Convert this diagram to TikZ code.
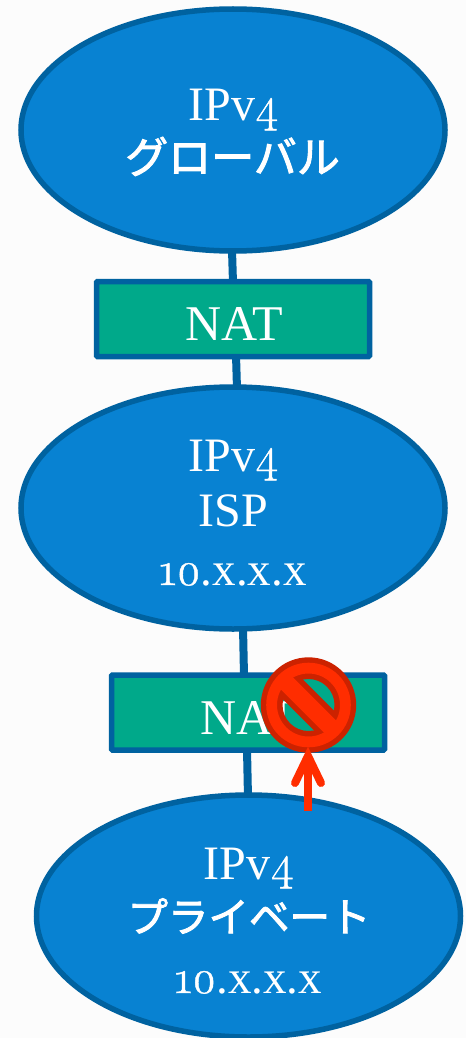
\documentclass[tikz,border=0pt]{standalone}
\usepackage{fontspec}
\setmainfont{Liberation Serif}
\newfontfamily\onum{Latin Modern Roman}[Numbers=OldStyle,FakeBold=1]
\newfontfamily\cjk{Noto Sans CJK JP}[FakeBold=2.2]
\usetikzlibrary{shapes.geometric}
\definecolor{netblue}{HTML}{0882D2}
\definecolor{edgeblue}{HTML}{0062A0}
\definecolor{natgreen}{HTML}{00A98A}
\definecolor{stopred}{HTML}{FF2D00}
\definecolor{stopdark}{HTML}{CC2200}
\definecolor{paper}{HTML}{FCFCFC}
\tikzset{
  x=1pt,y=-1pt,
  netcloud/.style={ellipse,draw=edgeblue,fill=netblue,line width=5.5pt,minimum width=424pt,minimum height=242pt,inner sep=0pt},
  natbox/.style={rectangle,draw=edgeblue,fill=natgreen,line width=5.5pt,rounded corners=1pt,minimum width=273pt,minimum height=75pt,inner sep=0pt},
  link/.style={draw=edgeblue,line width=8pt},
  label/.style={text=white,anchor=base,inner sep=0pt,font=\fontsize{48}{48}\selectfont},
  natlabel/.style={text=white,anchor=base,inner sep=0pt,font=\fontsize{50}{50}\selectfont},
  numlabel/.style={text=white,anchor=base,inner sep=0pt,font=\fontsize{47}{47}\selectfont},
  jplabel/.style={text=white,anchor=base,inner sep=0pt,font=\cjk\fontsize{43}{43}\selectfont},
  jplabelb/.style={text=white,anchor=base,inner sep=0pt,font=\cjk\fontsize{40.5}{41}\selectfont},
}
\begin{document}
\begin{tikzpicture}
\useasboundingbox (0,0) rectangle (466,1038);
\fill[paper] (0,0) rectangle (466,1038);
% connector ends
\coordinate (a1) at (232,250);
\coordinate (a2) at (233,283);
\coordinate (b1) at (236,355);
\coordinate (b2) at (237,389);
\coordinate (c1) at (243,627);
\coordinate (c2) at (244,676);
\coordinate (d1) at (247,749);
\coordinate (d2) at (248,798);
\draw[link] (a1) -- (a2);
\draw[link] (b1) -- (b2);
\draw[link] (c1) -- (c2);
\draw[link] (d1) -- (d2);
% shapes
\node[netcloud] (global) at (233,130) {};
\node[natbox] (nat1) at (233,319) {};
\node[netcloud] (isp) at (233,508) {};
\node[natbox] (nat2) at (248,712.5) {};
\node[netcloud] (priv) at (248.5,916) {};
% texts
\node[label] (t1) at (233.5,121) {IPv{\onum 4}};
\node[jplabel] (t2) at (232.5,173) {グローバル};
\node[natlabel] (t3) at (234,340) {NAT};
\node[label] (t4) at (233.5,471) {IPv{\onum 4}};
\node[label] (t5) at (233.5,526) {ISP};
\node[numlabel] (t6) at (233,585) {{\onum 10}.x.x.x};
\node[natlabel] (t7) at (249,734) {NAT};
\node[label] (t8) at (249,879) {IPv{\onum 4}};
\node[jplabelb] (t9) at (249,932) {プライベート};
\node[numlabel] (t10) at (248.5,993) {{\onum 10}.x.x.x};
% prohibition sign
\coordinate (stop) at (308.5,705);
\fill[stopdark,even odd rule] (stop) circle[radius=47.7] (stop) circle[radius=26];
\begin{scope}
\clip (stop) circle[radius=32];
\fill[stopdark,rotate around={-45:(stop)}] ([xshift=-40pt,yshift=-14pt]stop) rectangle ([xshift=40pt,yshift=14pt]stop);
\end{scope}
\fill[stopred,even odd rule] (stop) circle[radius=42.3] (stop) circle[radius=31.5];
\begin{scope}
\clip (stop) circle[radius=33];
\fill[stopred,rotate around={-45:(stop)}] ([xshift=-40pt,yshift=-8.5pt]stop) rectangle ([xshift=40pt,yshift=8.5pt]stop);
\end{scope}
% arrow
\coordinate (tail) at (308,811);
\coordinate (tip) at (308,756);
\coordinate (barbl) at (295,783);
\coordinate (barbr) at (321,783);
\draw[stopred,line width=8pt] (tail) -- (tip);
\draw[stopred,line width=8pt,line cap=round,line join=miter] (barbl) -- (tip) -- (barbr);
\end{tikzpicture}
\end{document}
